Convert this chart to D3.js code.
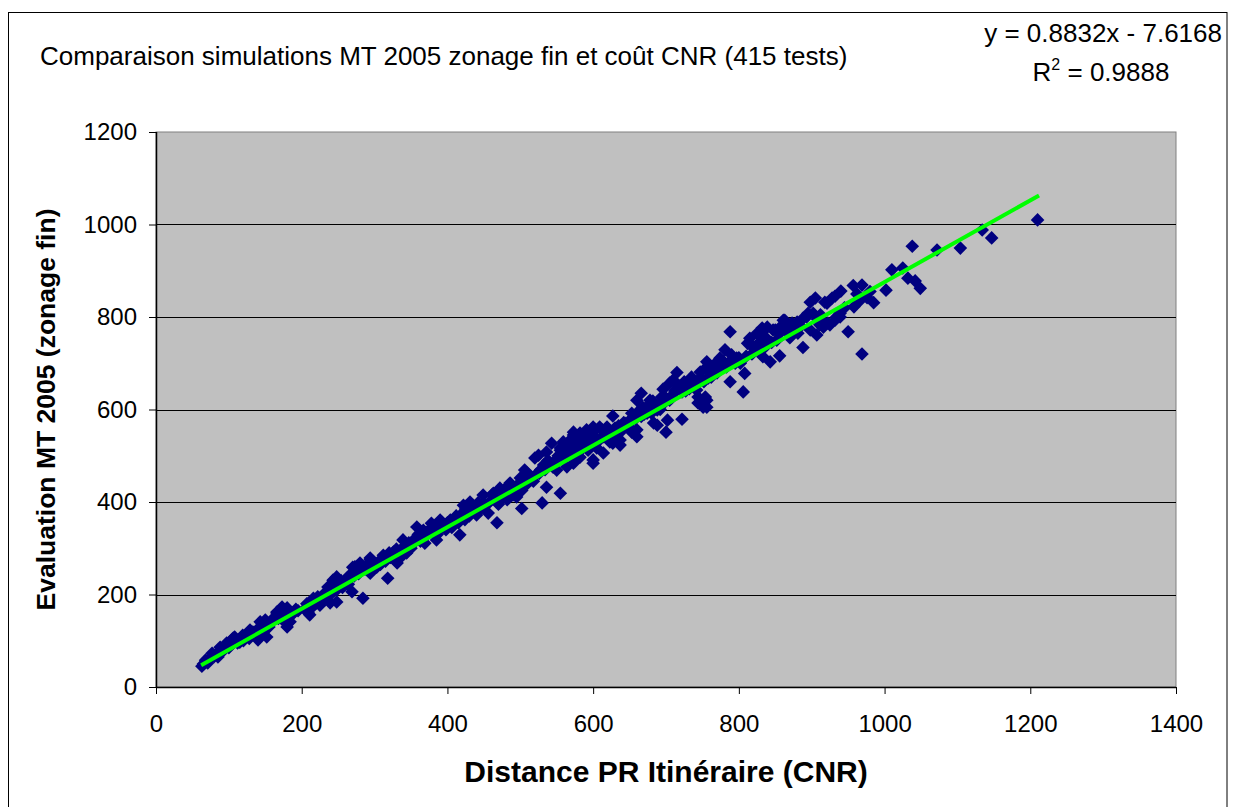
<!DOCTYPE html>
<html><head><meta charset="utf-8">
<script src="https://cdn.jsdelivr.net/npm/d3@7"></script>
<style>body{margin:0;background:#fff}svg{display:block}text{font-family:"Liberation Sans",Arial,sans-serif;fill:#000}</style>
</head><body>
<svg id="c" width="1237" height="807"></svg>
<script>
const titleText = "Comparaison simulations MT 2005 zonage fin et coût CNR (415 tests)";
const xAxisTitle = "Distance PR Itinéraire (CNR)";
const yAxisTitle = "Evaluation MT 2005 (zonage fin)";
const xTicks = [0,200,400,600,800,1000,1200,1400];
const yTicks = [0,200,400,600,800,1000,1200];
const trendSlope = 0.8832, trendIntercept = -7.6168, trendR2 = 0.9888;
const trendRange = [62, 1212];

const pts0_200 = [[63,45],[65,50],[68,58],[71,52],[74,62],[77,73],[80,66],[83,72],[85,65],[88,86],[90,80],[92,78],[95,84],[97,95],[100,85],[102,98],[103,92],[106,106],[108,108],[110,100],[112,95],[115,97],[117,105],[119,112],[120,100],[123,108],[125,112],[128,105],[129,123],[131,112],[133,119],[135,115],[138,122],[140,102],[141,118],[143,130],[143,141],[146,118],[148,128],[150,134],[150,145],[152,108],[155,130],[156,138],[158,140],[160,145],[162,150],[165,150],[166,160],[166,162],[168,148],[170,155],[173,173],[174,145],[176,150],[178,160],[180,130],[180,171],[181,138],[184,141],[186,155],[188,160],[192,168],[195,165]];
const pts200_400 = [[205,170],[207,180],[209,160],[211,156],[214,172],[216,192],[218,188],[220,182],[222,195],[225,177],[228,190],[230,200],[233,205],[236,216],[238,198],[239,182],[240,215],[243,231],[245,210],[248,184],[248,210],[248,238],[250,218],[252,222],[254,230],[256,215],[258,228],[262,231],[262,235],[264,222],[266,242],[269,206],[270,259],[272,240],[273,260],[276,250],[278,245],[280,268],[283,258],[284,192],[287,255],[290,262],[292,250],[294,246],[294,275],[294,279],[298,268],[300,262],[303,259],[305,270],[308,265],[310,275],[312,285],[315,272],[317,281],[318,235],[320,290],[322,280],[326,292],[328,285],[330,298],[331,268],[335,279],[336,295],[338,300],[339,318],[342,305],[344,290],[347,312],[350,300],[351,307],[355,320],[358,346],[360,330],[363,315],[365,325],[367,339],[369,311],[372,330],[375,340],[378,354],[380,335],[383,345],[385,318],[386,330],[388,340],[390,361],[392,345],[395,350],[398,340]];
const pts400_600 = [[400,355],[404,361],[406,345],[408,350],[412,370],[415,355],[417,329],[418,372],[420,365],[422,393],[424,362],[425,385],[427,376],[430,370],[431,400],[435,380],[438,390],[440,372],[442,398],[445,385],[449,398],[449,415],[452,395],[456,376],[458,400],[461,415],[463,419],[465,405],[468,355],[470,395],[472,430],[475,410],[478,420],[480,430],[482,405],[486,441],[488,425],[490,415],[493,430],[495,411],[497,438],[500,441],[500,452],[502,386],[502,425],[504,445],[506,469],[509,463],[510,440],[512,455],[515,455],[518,445],[520,495],[522,460],[525,501],[526,462],[528,470],[530,398],[532,480],[534,470],[536,432],[536,508],[538,490],[540,485],[543,527],[545,475],[548,490],[550,469],[552,500],[555,419],[555,512],[555,517],[559,530],[560,495],[562,515],[564,476],[564,506],[566,525],[568,505],[571,538],[572,497],[573,484],[573,527],[573,545],[573,551],[576,520],[578,510],[580,530],[582,497],[582,549],[584,540],[586,517],[586,527],[588,540],[591,534],[591,556],[593,512],[595,520],[597,545],[600,484],[600,491],[600,551],[600,562]];
const pts600_800 = [[603,540],[605,517],[606,530],[609,562],[612,556],[614,506],[614,541],[616,545],[619,562],[621,550],[623,530],[627,527],[627,586],[628,545],[630,560],[633,549],[635,565],[637,523],[637,534],[640,555],[642,572],[645,570],[648,565],[651,577],[653,551],[653,592],[655,584],[658,580],[660,541],[660,556],[660,620],[662,590],[664,599],[666,635],[666,585],[668,605],[670,590],[672,600],[674,592],[676,610],[678,620],[680,592],[682,618],[683,571],[685,605],[688,566],[688,599],[690,610],[692,600],[694,627],[696,644],[698,615],[700,551],[700,625],[702,577],[705,620],[705,657],[708,630],[710,664],[712,640],[715,680],[716,645],[718,650],[722,579],[722,638],[725,660],[727,640],[729,646],[729,653],[732,645],[735,670],[737,664],[740,655],[742,642],[744,614],[744,627],[747,681],[748,670],[751,605],[752,660],[754,627],[756,605],[756,620],[756,692],[756,703],[758,668],[760,680],[762,670],[765,690],[768,700],[770,679],[772,690],[774,711],[776,690],[778,705],[781,729],[783,692],[785,700],[788,660],[788,768],[790,718],[792,705],[795,700],[797,711]];
const pts800_1000 = [[800,712],[802,700],[806,638],[808,678],[810,715],[812,743],[815,754],[818,720],[820,735],[822,730],[825,765],[828,745],[830,760],[832,768],[832,776],[833,714],[836,735],[836,757],[839,778],[843,703],[845,745],[847,772],[850,772],[852,750],[856,716],[856,765],[858,780],[861,793],[863,793],[865,770],[870,755],[870,783],[873,787],[876,775],[880,789],[881,765],[885,780],[888,734],[888,797],[893,800],[895,808],[898,772],[898,832],[902,808],[905,841],[907,761],[908,795],[911,783],[912,805],[916,778],[916,789],[918,832],[921,830],[922,787],[925,783],[928,841],[932,793],[932,845],[934,800],[939,800],[939,808],[940,856],[945,820],[950,768],[958,822],[957,868],[962,850],[966,835],[969,720],[969,869],[976,842],[980,855],[985,831]];
const pts1000_1250 = [[1002,858],[1010,902],[1025,906],[1032,884],[1038,953],[1042,878],[1049,862],[1072,945],[1104,949],[1134,988],[1147,971],[1210,1010]];
const points = [].concat(pts0_200, pts200_400, pts400_600, pts600_800, pts800_1000, pts1000_1250);

const svg = d3.select("#c");
const m = {l:156, t:132, r:1176, b:687};
const x = d3.scaleLinear().domain([0,1400]).range([m.l, m.r]);
const y = d3.scaleLinear().domain([0,1200]).range([m.b, m.t]);
const FF = "'Liberation Sans',Arial,sans-serif";

svg.append("rect").attr("x",8.5).attr("y",12.5).attr("width",1218.5).attr("height",820)
  .attr("fill","#fff").attr("stroke","#000").attr("stroke-width",1);

svg.append("rect").attr("x",m.l).attr("y",m.t).attr("width",m.r-m.l).attr("height",m.b-m.t)
  .attr("fill","#C0C0C0").attr("stroke","#808080").attr("stroke-width",1);

svg.append("g").selectAll("line").data(yTicks.filter(d=>d>0 && d<1200)).join("line")
  .attr("x1",m.l).attr("x2",m.r).attr("y1",d=>Math.round(y(d))+0.5).attr("y2",d=>Math.round(y(d))+0.5)
  .attr("stroke","#000").attr("stroke-width",1);

const fs = 24;
const xAxis = svg.append("g").attr("transform",`translate(0,${m.b})`)
  .call(d3.axisBottom(x).tickValues(xTicks).tickSize(7).tickPadding(21).tickFormat(d3.format("d")));
const yAxis = svg.append("g").attr("transform",`translate(${m.l},0)`)
  .call(d3.axisLeft(y).tickValues(yTicks).tickSize(7).tickPadding(12).tickFormat(d3.format("d")));
[xAxis,yAxis].forEach(g=>{
  g.select(".domain").attr("stroke","#000").attr("stroke-width",1.5);
  g.selectAll(".tick line").attr("stroke","#000");
  g.selectAll(".tick text").attr("font-size",fs).attr("font-family",FF).attr("fill","#000");
});
yAxis.select(".domain").attr("d",`M0.5,${m.t}V${m.b}`);
xAxis.select(".domain").attr("d",`M${m.l},0.5H${m.r}`);

const s = 6.8;
svg.append("g").selectAll("path").data(points).join("path")
  .attr("transform",d=>`translate(${x(d[0])},${y(d[1])})`)
  .attr("d",`M0,${-s}L${s},0L0,${s}L${-s},0Z`)
  .attr("fill","#000080");

svg.append("line")
  .attr("x1",x(trendRange[0])).attr("y1",y(trendSlope*trendRange[0]+trendIntercept))
  .attr("x2",x(trendRange[1])).attr("y2",y(trendSlope*trendRange[1]+trendIntercept))
  .attr("stroke","#00FF00").attr("stroke-width",4);

svg.append("text").attr("x",40).attr("y",65).attr("font-size",26).text(titleText);
svg.append("text").attr("x",(m.l+m.r)/2).attr("y",782).attr("text-anchor","middle")
  .attr("font-size",30).attr("font-weight","bold").text(xAxisTitle);
svg.append("text").attr("transform",`translate(55,${(m.t+m.b)/2}) rotate(-90)`).attr("text-anchor","middle")
  .attr("font-size",26.5).attr("font-weight","bold").text(yAxisTitle);

svg.append("text").attr("x",1222).attr("y",42).attr("text-anchor","end").attr("font-size",26)
  .text(`y = ${trendSlope}x - ${Math.abs(trendIntercept)}`);
const r2 = svg.append("text").attr("x",1101).attr("y",81).attr("text-anchor","middle").attr("font-size",26);
r2.append("tspan").text("R");
r2.append("tspan").attr("font-size",16).attr("dy",-11).text("2");
r2.append("tspan").attr("dy",11).text(` = ${trendR2}`);
</script>
</body></html>
